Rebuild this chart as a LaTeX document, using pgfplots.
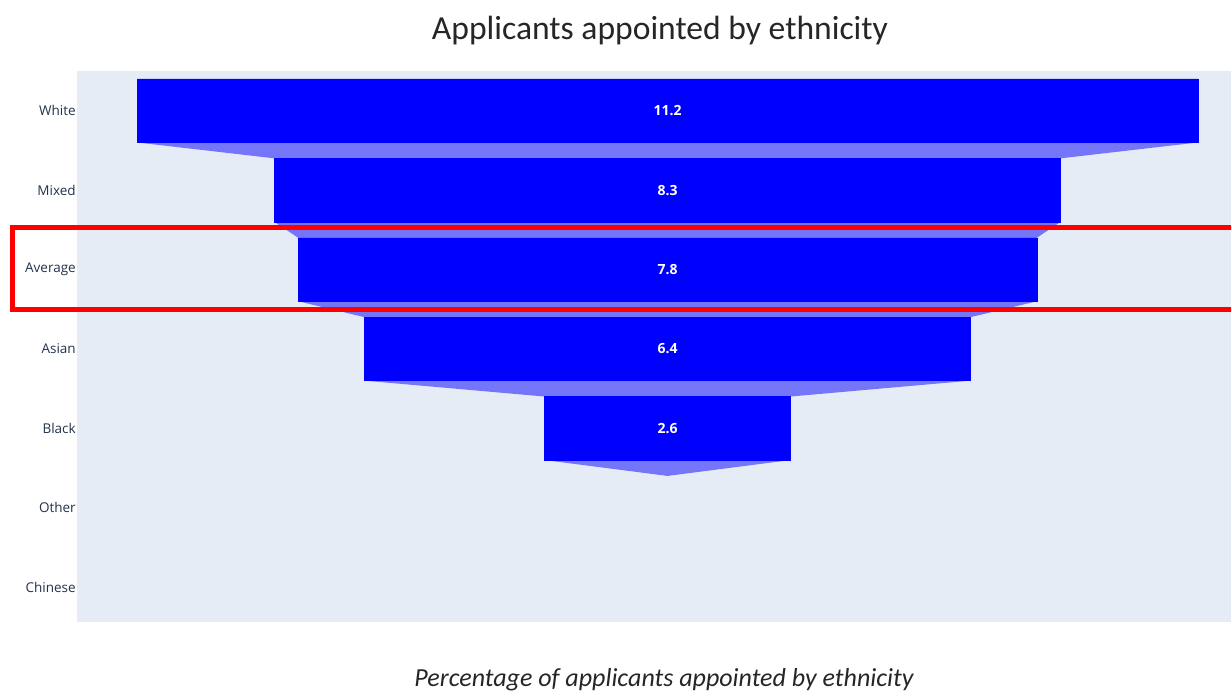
\documentclass[border=0pt]{standalone}
\usepackage{fontspec}
\setmainfont{Carlito}
\newfontfamily\osans{Open Sans}
\usepackage{pgfplots}
\pgfplotsset{compat=1.18}
\usepackage{pgfplotstable}
\newlength\px \setlength\px{0.75pt}
\definecolor{plotbg}{RGB}{229,236,246}
\definecolor{funnel}{RGB}{0,0,255}
\definecolor{conn}{RGB}{117,117,250}
\definecolor{ticktext}{RGB}{42,63,95}

\pgfplotstableread{
y v
0 11.2
1 8.3
2 7.8
3 6.4
4 2.6
}\funneldata

\begin{document}
\begin{tikzpicture}[x=\px,y=\px]
\useasboundingbox (0,0) rectangle (1231,693);
\begin{axis}[at={(77\px,71\px)}, anchor=south west, scale only axis,
  width=1181\px, height=551\px,
  xmin=-6.234, xmax=6.234, ymin=-0.5, ymax=6.44, y dir=reverse,
  axis background/.style={fill=plotbg}, axis line style={draw=none},
  xtick=\empty, ytick={0,...,6},
  yticklabels={White,Mixed,Average,Asian,Black,Other,Chinese},
  major tick length=0pt,
  yticklabel style={font=\osans\fontsize{13.5\px}{16\px}\selectfont, text=ticktext!80!black, inner sep=0pt, xshift=-1\px},
  clip=false]
% connectors
\addplot[fill=conn, draw=none, forget plot] coordinates {(-5.6,0.4) (5.6,0.4) (4.15,0.6) (-4.15,0.6)} -- cycle;
\addplot[fill=conn, draw=none, forget plot] coordinates {(-4.15,1.4) (4.15,1.4) (3.9,1.6) (-3.9,1.6)} -- cycle;
\addplot[fill=conn, draw=none, forget plot] coordinates {(-3.9,2.4) (3.9,2.4) (3.2,2.6) (-3.2,2.6)} -- cycle;
\addplot[fill=conn, draw=none, forget plot] coordinates {(-3.2,3.4) (3.2,3.4) (1.3,3.6) (-1.3,3.6)} -- cycle;
\addplot[fill=conn, draw=none, forget plot] coordinates {(-1.3,4.4) (1.3,4.4) (0,4.6)} -- cycle;
% bars (two halves about zero)
\addplot[xbar, bar width=0.8, bar shift=0pt, fill=funnel, draw=funnel, line width=0.3pt] table[x expr=\thisrow{v}/2, y=y] {\funneldata};
\addplot[xbar, bar width=0.8, bar shift=0pt, fill=funnel, draw=funnel, line width=0.3pt] table[x expr=-\thisrow{v}/2, y=y] {\funneldata};
% labels
\addplot[draw=none, mark=none, nodes near coords, point meta=explicit symbolic,
  nodes near coords style={font=\osans\fontseries{sb}\fontsize{14\px}{17\px}\selectfont, text=white, anchor=center}]
  table[x expr=0, y=y, meta=v] {\funneldata};
\end{axis}
\draw[red, line width=5\px] (12,465) rectangle (1245,383.5);
\node[font=\fontsize{33.6\px}{40\px}\selectfont, text=black!85, anchor=base] at (660,653) {Applicants appointed by ethnicity};
\node[font=\itshape\fontsize{26\px}{30\px}\selectfont, text=black!85, anchor=base] at (664,7) {Percentage of applicants appointed by ethnicity};
\end{tikzpicture}
\end{document}
